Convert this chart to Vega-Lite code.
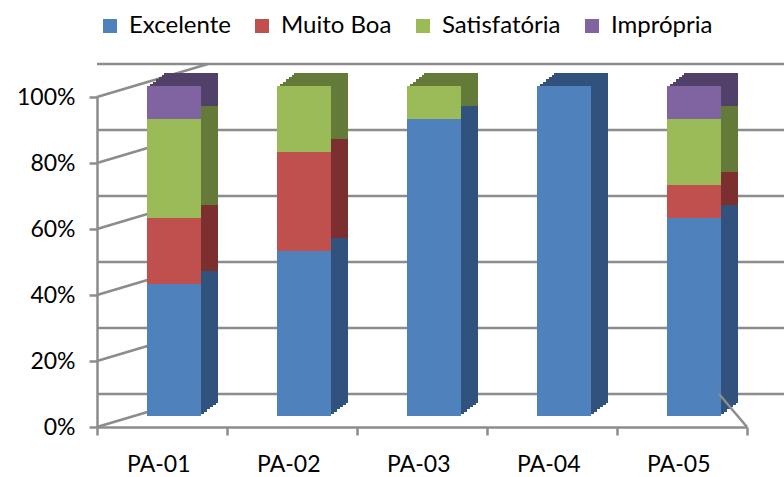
{
  "$schema": "https://vega.github.io/schema/vega-lite/v6.json",
  "width": 650,
  "height": 330,
  "autosize": {"type": "none"},
  "padding": {"left": 97, "top": 97, "right": 37, "bottom": 50},
  "background": "white",
  "config": {
    "font": "Lato",
    "view": {"stroke": null}
  },
  "datasets": {
    "avaliacao": [
      {"ponto": "PA-01", "classe": "Excelente", "fracao": 0.4},
      {"ponto": "PA-01", "classe": "Muito Boa", "fracao": 0.2},
      {"ponto": "PA-01", "classe": "Satisfatória", "fracao": 0.3},
      {"ponto": "PA-01", "classe": "Imprópria", "fracao": 0.1},
      {"ponto": "PA-02", "classe": "Excelente", "fracao": 0.5},
      {"ponto": "PA-02", "classe": "Muito Boa", "fracao": 0.3},
      {"ponto": "PA-02", "classe": "Satisfatória", "fracao": 0.2},
      {"ponto": "PA-03", "classe": "Excelente", "fracao": 0.9},
      {"ponto": "PA-03", "classe": "Satisfatória", "fracao": 0.1},
      {"ponto": "PA-04", "classe": "Excelente", "fracao": 1.0},
      {"ponto": "PA-05", "classe": "Excelente", "fracao": 0.6},
      {"ponto": "PA-05", "classe": "Muito Boa", "fracao": 0.1},
      {"ponto": "PA-05", "classe": "Satisfatória", "fracao": 0.2},
      {"ponto": "PA-05", "classe": "Imprópria", "fracao": 0.1}
    ],
    "grade": [{"t": 0}, {"t": 0.2}, {"t": 0.4}, {"t": 0.6}, {"t": 0.8}, {"t": 1.0}]
  },
  "resolve": {"scale": {"color": "independent"}, "legend": {"color": "independent"}},
  "layer": [
    {
      "data": {"name": "grade"},
      "mark": {"type": "rule", "color": "#8C8C8C", "strokeWidth": 2.5, "xOffset": 46, "x2Offset": 37, "yOffset": -33},
      "encoding": {
        "y": {"field": "t", "type": "quantitative", "scale": {"domain": [0, 1]}}
      }
    },
    {
      "data": {"name": "grade"},
      "mark": {"type": "rule", "color": "#8C8C8C", "strokeWidth": 2.5, "x2Offset": 46, "y2Offset": -33},
      "encoding": {
        "x": {"datum": "PA-01", "bandPosition": 0},
        "x2": {"datum": "PA-01"},
        "y": {"field": "t", "type": "quantitative"},
        "y2": {"field": "t"}
      }
    },
    {
      "data": {"name": "avaliacao"},
      "transform": [{"calculate": "indexof(['Excelente', 'Muito Boa', 'Satisfatória', 'Imprópria'], datum.classe)", "as": "ordem"}],
      "layer": [
        {"mark": {"type": "bar", "width": 54, "xOffset": 15, "yOffset": -13, "y2Offset": -13}},
        {"mark": {"type": "bar", "width": 54, "xOffset": 18, "yOffset": -15, "y2Offset": -15}},
        {"mark": {"type": "bar", "width": 54, "xOffset": 21, "yOffset": -18, "y2Offset": -18}},
        {"mark": {"type": "bar", "width": 54, "xOffset": 24, "yOffset": -20, "y2Offset": -20}},
        {"mark": {"type": "bar", "width": 54, "xOffset": 27, "yOffset": -22, "y2Offset": -22}},
        {"mark": {"type": "bar", "width": 54, "xOffset": 29, "yOffset": -24, "y2Offset": -24}}
      ],
      "encoding": {
        "x": {"field": "ponto", "type": "nominal"},
        "y": {"field": "fracao", "type": "quantitative", "stack": "zero"},
        "order": {"field": "ordem", "type": "quantitative", "sort": "ascending"},
        "color": {
          "field": "classe", "type": "nominal",
          "scale": {"domain": ["Excelente", "Muito Boa", "Satisfatória", "Imprópria"], "range": ["#30527C", "#7B2F2E", "#647A39", "#51406A"]},
          "legend": null
        }
      }
    },
    {
      "data": {"name": "avaliacao"},
      "transform": [{"calculate": "indexof(['Excelente', 'Muito Boa', 'Satisfatória', 'Imprópria'], datum.classe)", "as": "ordem"}],
      "mark": {"type": "bar", "width": 54, "xOffset": 12, "yOffset": -11, "y2Offset": -11},
      "encoding": {
        "x": {
          "field": "ponto", "type": "nominal",
          "scale": {"paddingInner": 0, "paddingOuter": 0},
          "axis": {
            "title": null, "labelAngle": 0, "tickBand": "extent",
            "domainColor": "#8C8C8C", "domainWidth": 2.5,
            "tickColor": "#8C8C8C", "tickWidth": 2.5, "tickSize": 8,
            "labelFontSize": 23, "labelColor": "#000000", "labelPadding": 29, "labelOffset": 28
          }
        },
        "y": {
          "field": "fracao", "type": "quantitative", "stack": "zero",
          "axis": {
            "title": null, "grid": false, "values": [0, 0.2, 0.4, 0.6, 0.8, 1], "format": ".0%",
            "domainColor": "#8C8C8C", "domainWidth": 2.5,
            "tickColor": "#8C8C8C", "tickWidth": 2.5, "tickSize": 8,
            "labelFontSize": 23, "labelColor": "#000000", "labelPadding": 14
          }
        },
        "order": {"field": "ordem", "type": "quantitative", "sort": "ascending"},
        "color": {
          "field": "classe", "type": "nominal",
          "sort": ["Excelente", "Muito Boa", "Satisfatória", "Imprópria"],
          "scale": {"domain": ["Excelente", "Muito Boa", "Satisfatória", "Imprópria"], "range": ["#4F81BD", "#C0504D", "#9BBB59", "#8064A2"]},
          "legend": {
            "title": null, "orient": "none", "direction": "horizontal",
            "legendX": 1, "legendY": -83,
            "symbolType": "square", "symbolSize": 196, "symbolStrokeWidth": 0,
            "labelFontSize": 24, "labelColor": "#000000", "labelOffset": 7,
            "columnPadding": 19
          }
        }
      }
    },
    {
      "data": {"values": [{"t": 0}]},
      "mark": {"type": "rule", "color": "#8C8C8C", "strokeWidth": 2.5, "x2Offset": 37, "y2Offset": -33},
      "encoding": {
        "x": {"datum": "PA-05", "bandPosition": 1},
        "x2": {"datum": "PA-05"},
        "y": {"field": "t", "type": "quantitative"},
        "y2": {"field": "t"}
      }
    }
  ]
}
